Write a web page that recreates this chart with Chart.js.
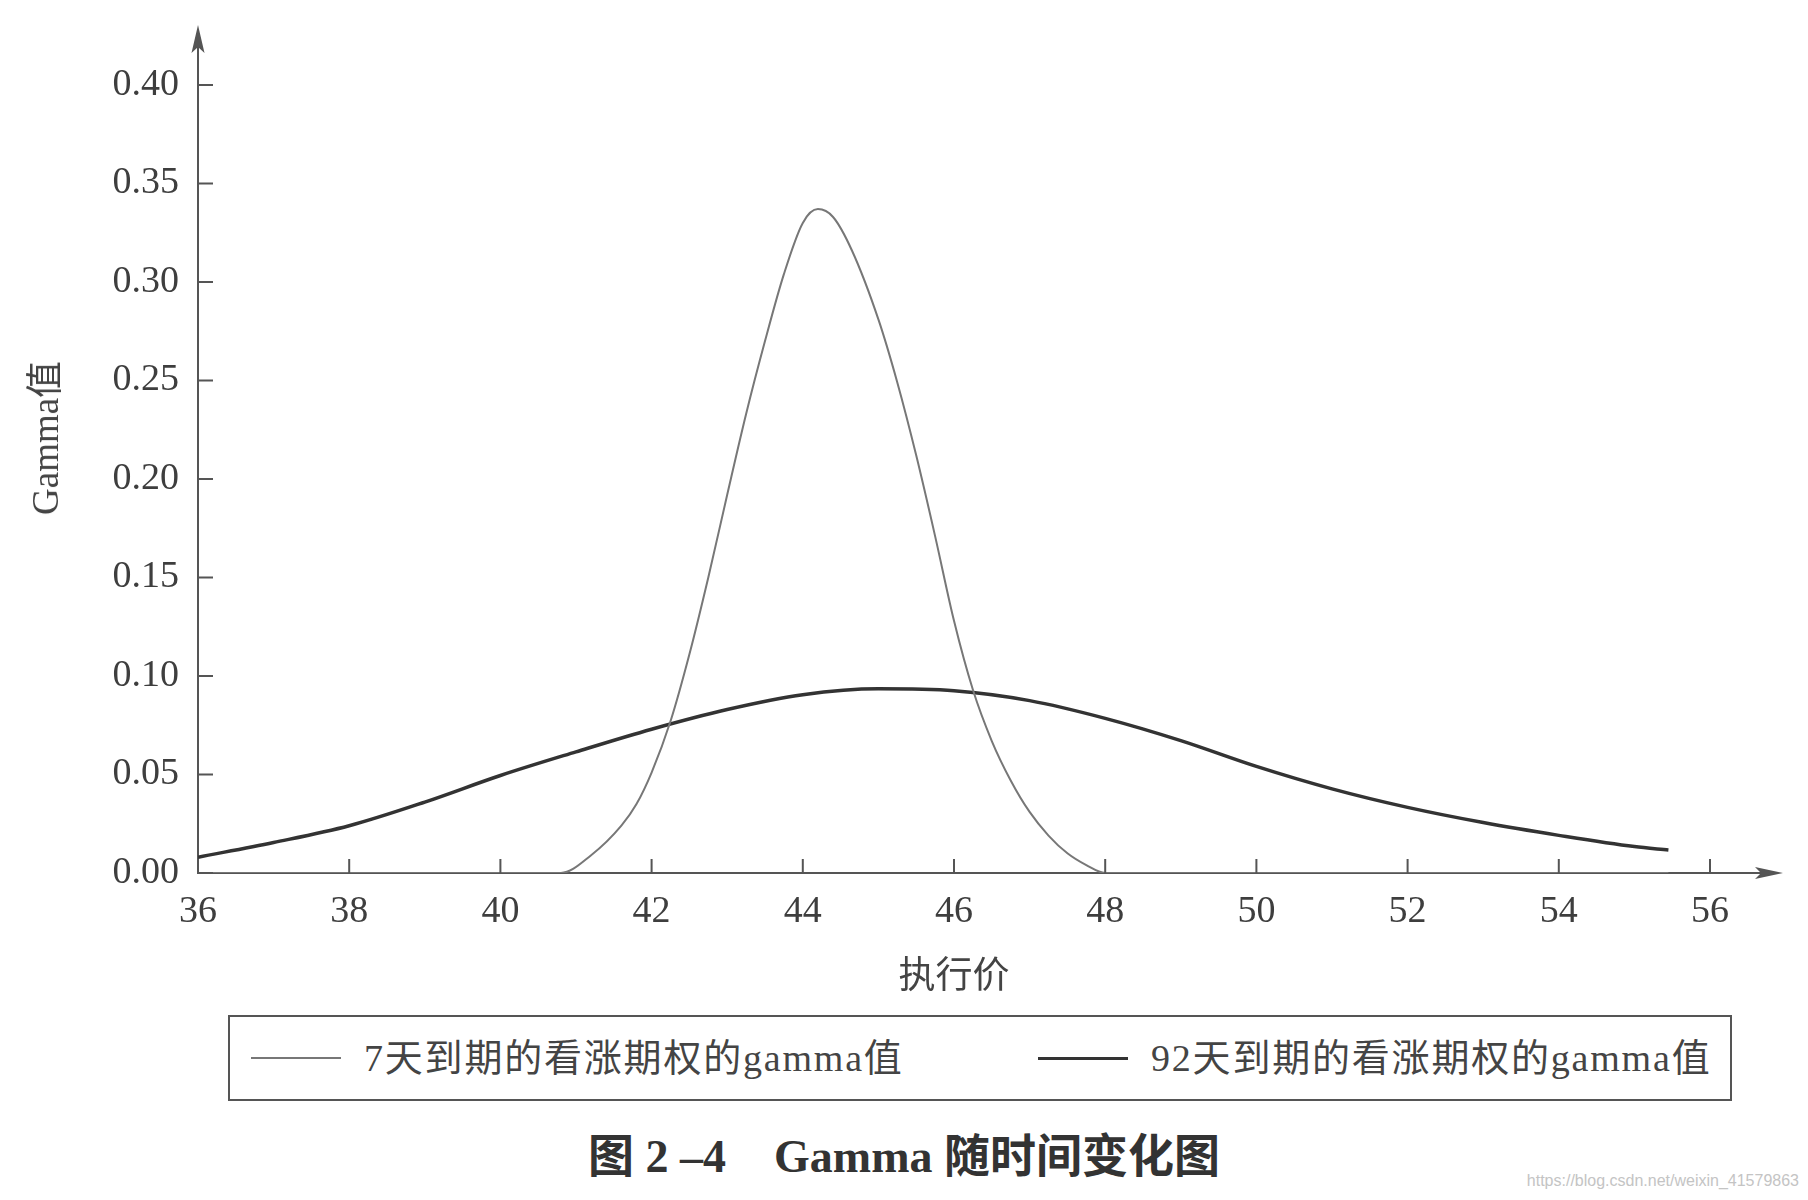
<!DOCTYPE html>
<html>
<head>
<meta charset="utf-8">
<script src="https://cdn.jsdelivr.net/npm/chart.js@4/dist/chart.umd.min.js"></script>
<style>
  html, body { margin: 0; padding: 0; background: #fff; }
  #wrap { position: relative; width: 1808px; height: 1200px; overflow: hidden;
          font-family: "Liberation Serif", "Noto Sans CJK SC", serif; color: #3e3e3e; }
  #chart { position: absolute; left: 0; top: 0; }
  #ytitle { position: absolute; left: 42px; top: 438px; transform: translate(-50%, -50%) rotate(-90deg);
            font-size: 37px; white-space: nowrap; color: #444; }
  #legend { position: absolute; left: 228px; top: 1015px; width: 1500px; height: 82px;
            border: 2px solid #555; }
  .item { position: absolute; top: 0; height: 74px; display: flex; align-items: center;
          font-size: 38px; letter-spacing: 1.8px; white-space: nowrap; color: #444; }
  .swatch { display: inline-block; width: 90px; margin-right: 23px; position: relative; top: 4px; }
  #caption { position: absolute; left: 0; width: 1808px; top: 1119px; text-align: center;
             font-size: 46px; font-weight: bold; color: #333; white-space: nowrap; }
  #caption .gap { display: inline-block; width: 48px; }
  #mark { position: absolute; right: 9px; top: 1172px; font-family: "Liberation Sans", sans-serif;
          font-size: 16px; color: #c4c4c4; }
</style>
</head>
<body>
<div id="wrap">
  <canvas id="chart" width="1808" height="1000"></canvas>
  <div id="ytitle">Gamma值</div>
  <div id="legend">
    <div class="item" style="left:21px"><span class="swatch" style="border-top:2px solid #777"></span>7天到期的看涨期权的gamma值</div>
    <div class="item" style="left:808px"><span class="swatch" style="border-top:3px solid #333"></span>92天到期的看涨期权的gamma值</div>
  </div>
  <div id="caption">图 2 –4<span class="gap"></span>Gamma 随时间变化图</div>
  <div id="mark">https://blog.csdn.net/weixin_41579863</div>
</div>
<script>
// strike prices and gamma
var strikes7 = [36, 38, 40, 40.8, 41.2, 41.6, 41.8, 42.0, 42.25, 42.5, 42.75, 43.0, 43.25, 43.5, 43.75,
                44.0, 44.2, 44.4, 44.65, 45.0, 45.25, 45.5, 45.75, 46.0, 46.25, 46.5, 46.75,
                47.0, 47.25, 47.5, 47.75, 48.0, 50, 52, 54, 55.45];
var gamma7 = [0, 0, 0, 0, 0.009, 0.024, 0.035, 0.051, 0.077, 0.111, 0.150, 0.192, 0.233, 0.270, 0.304,
              0.330, 0.337, 0.333, 0.316, 0.281, 0.249, 0.212, 0.171, 0.128, 0.093, 0.067, 0.047,
              0.031, 0.019, 0.010, 0.004, 0, 0, 0, 0, 0];

var strikes92 = [36, 37, 38, 39, 40, 41, 42, 43, 44, 45, 46, 47, 48, 49, 50, 51, 52, 53, 54, 55, 55.45];
var gamma92 = [0.008, 0.0155, 0.024, 0.036, 0.0495, 0.0615, 0.073, 0.083, 0.0905, 0.0935, 0.0925,
               0.0875, 0.0785, 0.0672, 0.0541, 0.0427, 0.0333, 0.0256, 0.0191, 0.0134, 0.0117];

var xTicks = [36, 38, 40, 42, 44, 46, 48, 50, 52, 54, 56];
var yTicks = [0, 0.05, 0.10, 0.15, 0.20, 0.25, 0.30, 0.35, 0.40];

function pts(xs, ys) {
  return xs.map(function (x, i) { return { x: x, y: ys[i] }; });
}

var axisColor = '#555';

// arrows on the axes and tick marks pointing into the plot
var axisDecor = {
  id: 'axisDecor',
  afterDraw: function (chart) {
    var ctx = chart.ctx, a = chart.chartArea;
    var xs = chart.scales.x, ys = chart.scales.y;
    var topTip = a.top - 60, rightTip = a.right + 73;
    ctx.save();
    ctx.strokeStyle = axisColor;
    ctx.fillStyle = axisColor;
    ctx.lineWidth = 2;
    ctx.beginPath();
    ctx.moveTo(a.left, a.top); ctx.lineTo(a.left, topTip + 10);
    ctx.moveTo(a.right, a.bottom); ctx.lineTo(rightTip - 10, a.bottom);
    xs.ticks.forEach(function (t) {
      var px = xs.getPixelForValue(t.value);
      ctx.moveTo(px, a.bottom); ctx.lineTo(px, a.bottom - 14);
    });
    ys.ticks.forEach(function (t) {
      var py = ys.getPixelForValue(t.value);
      ctx.moveTo(a.left, py); ctx.lineTo(a.left + 15, py);
    });
    ctx.stroke();

    ctx.beginPath();
    ctx.moveTo(a.left, topTip);
    ctx.lineTo(a.left + 6.5, topTip + 28);
    ctx.lineTo(a.left, topTip + 22);
    ctx.lineTo(a.left - 6.5, topTip + 28);
    ctx.closePath();
    ctx.fill();

    ctx.beginPath();
    ctx.moveTo(rightTip, a.bottom);
    ctx.lineTo(rightTip - 28, a.bottom - 6);
    ctx.lineTo(rightTip - 22, a.bottom);
    ctx.lineTo(rightTip - 28, a.bottom + 6);
    ctx.closePath();
    ctx.fill();
    ctx.restore();
  }
};

var tickFont = { family: '"Liberation Serif", serif', size: 38 };

new Chart(document.getElementById('chart'), {
  type: 'line',
  data: {
    datasets: [
      {
        label: '7天到期的看涨期权的gamma值',
        data: pts(strikes7, gamma7),
        borderColor: '#777',
        borderWidth: 2,
        pointRadius: 0,
        cubicInterpolationMode: 'monotone',
        fill: false
      },
      {
        label: '92天到期的看涨期权的gamma值',
        data: pts(strikes92, gamma92),
        borderColor: '#333',
        borderWidth: 3.5,
        pointRadius: 0,
        cubicInterpolationMode: 'monotone',
        fill: false
      }
    ]
  },
  options: {
    responsive: false,
    animation: false,
    layout: { padding: { left: 0, right: 98, top: 85, bottom: 0 } },
    plugins: {
      legend: { display: false },
      tooltip: { enabled: false }
    },
    scales: {
      x: {
        type: 'linear',
        min: 36,
        max: 56,
        afterFit: function (s) { s.height = 127; },
        afterBuildTicks: function (s) { s.ticks = xTicks.map(function (v) { return { value: v }; }); },
        grid: { display: false, drawTicks: false },
        border: { display: true, color: axisColor, width: 2 },
        ticks: { padding: 16, color: '#3e3e3e', font: tickFont, maxRotation: 0 },
        title: {
          display: true,
          text: '执行价',
          color: '#444',
          font: { family: '"Liberation Serif", "Noto Sans CJK SC", serif', size: 37 },
          padding: { top: 0, bottom: 0 }
        }
      },
      y: {
        min: 0,
        max: 0.4,
        afterFit: function (s) { s.width = 198; },
        afterBuildTicks: function (s) { s.ticks = yTicks.map(function (v) { return { value: v }; }); },
        grid: { display: false, drawTicks: false },
        border: { display: true, color: axisColor, width: 2 },
        ticks: {
          padding: 19,
          color: '#3e3e3e',
          font: tickFont,
          callback: function (v) { return Number(v).toFixed(2); }
        }
      }
    }
  },
  plugins: [axisDecor]
});
</script>
</body>
</html>
